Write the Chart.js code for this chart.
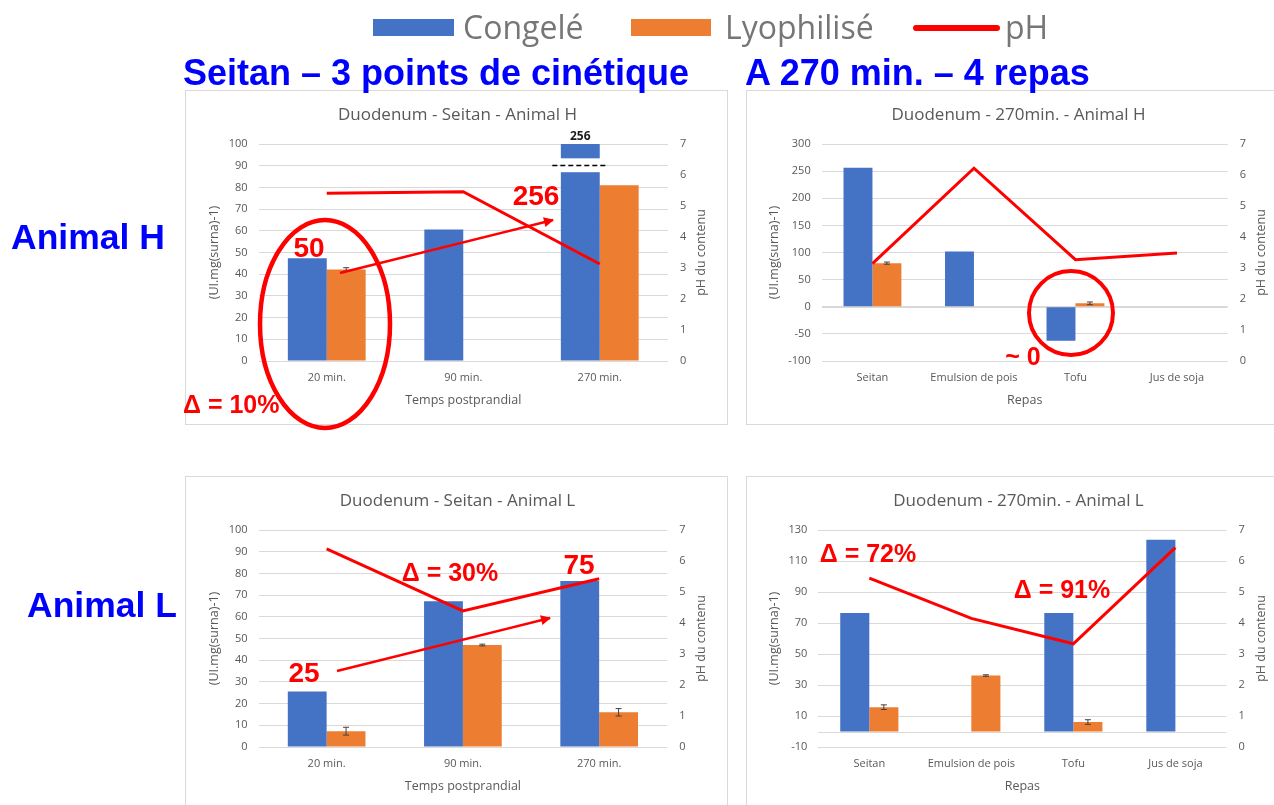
<!DOCTYPE html>
<html lang="fr">
<head>
<meta charset="utf-8">
<title>Duodenum – Congelé / Lyophilisé / pH</title>
<script src="https://cdn.jsdelivr.net/npm/chart.js@4.4.1/dist/chart.umd.min.js"></script>
<style>
  html, body { margin: 0; padding: 0; background: #fff; }
  body { position: relative; width: 1274px; height: 805px; overflow: hidden; }
  .cadre { position: absolute; width: 541px; height: 333px; border: 1px solid #d9d9d9; background: #fff; }
  .cadre canvas { display: block; }
  #calque { position: absolute; left: 0; top: 0; z-index: 2; pointer-events: none; }
  .titre { font: bold 36px "Liberation Sans", Arial, sans-serif; fill: #0000ff; }
  .animal { font: bold 35.5px "Liberation Sans", Arial, sans-serif; fill: #0000ff; }
  .legende { font: 32px "Open Sans", sans-serif; fill: #767676; }
  .annot { font-family: "Liberation Sans", Arial, sans-serif; font-weight: bold; fill: #ff0000; }
</style>
</head>
<body>
<div class="cadre" style="left:185px;top:90px"><canvas id="chartHSeitan" width="541" height="333"></canvas></div>
<div class="cadre" style="left:746px;top:90px"><canvas id="chartH270" width="541" height="333"></canvas></div>
<div class="cadre" style="left:185px;top:476px"><canvas id="chartLSeitan" width="541" height="333"></canvas></div>
<div class="cadre" style="left:746px;top:476px"><canvas id="chartL270" width="541" height="333"></canvas></div>

<svg id="calque" width="1274" height="805">
  <defs>
    <marker id="fleche" viewBox="0 0 10 10" refX="9" refY="5" markerWidth="4.5" markerHeight="4" orient="auto">
      <path d="M0,0 L10,5 L0,10 z" fill="#ff0000"/>
    </marker>
  </defs>

  <!-- légende commune -->
  <rect x="373" y="19" width="81" height="17" fill="#4472c4"/>
  <text class="legende" x="463" y="39">Congelé</text>
  <rect x="631" y="19" width="80" height="17" fill="#ed7d31"/>
  <text class="legende" x="725" y="39">Lyophilisé</text>
  <line x1="916" y1="28" x2="997" y2="28" stroke="#ff0000" stroke-width="6" stroke-linecap="round"/>
  <text class="legende" x="1005" y="39">pH</text>

  <!-- titres de colonnes et de lignes -->
  <text class="titre" x="183" y="85">Seitan – 3 points de cinétique</text>
  <text class="titre" x="745" y="85">A 270 min. – 4 repas</text>
  <text class="animal" x="11" y="249">Animal H</text>
  <text class="animal" x="27" y="617">Animal L</text>

  <!-- annotations Animal H -->
  <ellipse cx="325" cy="324" rx="65" ry="104" fill="none" stroke="#ff0000" stroke-width="4.5"/>
  <text class="annot" x="309" y="257" font-size="28" text-anchor="middle">50</text>
  <text class="annot" x="183" y="413" font-size="25">Δ = 10%</text>
  <line x1="340" y1="273" x2="553" y2="220" stroke="#ff0000" stroke-width="2.5" marker-end="url(#fleche)"/>
  <text class="annot" x="536" y="205" font-size="28" text-anchor="middle">256</text>
  <circle cx="1071" cy="313" r="42" fill="none" stroke="#ff0000" stroke-width="4"/>
  <text class="annot" x="1023" y="365" font-size="25" text-anchor="middle">~ 0</text>

  <!-- annotations Animal L -->
  <text class="annot" x="450" y="581" font-size="25" text-anchor="middle">Δ = 30%</text>
  <text class="annot" x="579" y="574" font-size="28" text-anchor="middle">75</text>
  <text class="annot" x="304" y="682" font-size="28" text-anchor="middle">25</text>
  <line x1="337" y1="671" x2="550" y2="618" stroke="#ff0000" stroke-width="2.5" marker-end="url(#fleche)"/>
  <text class="annot" x="868" y="562" font-size="25" text-anchor="middle">Δ = 72%</text>
  <text class="annot" x="1062" y="598" font-size="25" text-anchor="middle">Δ = 91%</text>
</svg>

<script>
// catégories
const tempsLabels = ["20 min.", "90 min.", "270 min."];
const repasLabels = ["Seitan", "Emulsion de pois", "Tofu", "Jus de soja"];

// Animal H - cinétique seitan
const hSeitanCongele = [47.3, 60.6, 256];
const hSeitanLyophilise = [42.2, null, 81.0];
const hSeitanLyoErreur = [0.8, null, null];
const hSeitanPH = [5.41, 5.46, 3.13];

// Animal H - 270 min, 4 repas
const h270Congele = [256, 102, -62.6, null];
const h270Lyophilise = [80.4, null, 6.3, null];
const h270LyoErreur = [2, null, 2.5, null];
const h270PH = [3.14, 6.22, 3.27, 3.48];

// Animal L - cinétique seitan
const lSeitanCongele = [25.6, 67.2, 76.5];
const lSeitanLyophilise = [7.3, 47.0, 16.0];
const lSeitanLyoErreur = [1.8, 0.4, 1.7];
const lSeitanPH = [6.39, 4.39, 5.43];

// Animal L - 270 min, 4 repas
const l270Congele = [76.4, null, 76.4, 123.7];
const l270Lyophilise = [15.7, 36.1, 6.1, null];
const l270LyoErreur = [1.5, 0.5, 1.5, null];
const l270PH = [5.45, 4.15, 3.33, 6.43];

// échelles des axes (activité à gauche, pH à droite)
const echelleSeitan = [0, 100, 10];
const echelle270H = [-100, 300, 50];
const echelle270L = [-10, 130, 20];
const echellePH = [0, 7, 1];

Chart.defaults.font.family = "'Open Sans', sans-serif";
Chart.defaults.color = "#595959";

// barres d'erreur sur les séries qui ont un tableau "erreurs"
const barresErreur = {
  id: "barresErreur",
  afterDatasetsDraw(chart) {
    const ctx = chart.ctx;
    chart.data.datasets.forEach((ds, i) => {
      if (!ds.erreurs) return;
      const meta = chart.getDatasetMeta(i);
      const y = chart.scales[meta.yAxisID];
      meta.data.forEach((el, j) => {
        const v = ds.data[j], e = ds.erreurs[j];
        if (v == null || e == null) return;
        const haut = y.getPixelForValue(v + e);
        const bas = y.getPixelForValue(v - e);
        ctx.save();
        ctx.strokeStyle = "#404040";
        ctx.lineWidth = 1;
        ctx.beginPath();
        ctx.moveTo(el.x, haut); ctx.lineTo(el.x, bas);
        ctx.moveTo(el.x - 3, haut); ctx.lineTo(el.x + 3, haut);
        ctx.moveTo(el.x - 3, bas); ctx.lineTo(el.x + 3, bas);
        ctx.stroke();
        ctx.restore();
      });
    });
  }
};

// axe horizontal à 0 quand 0 n'est pas une graduation
const ligneZero = {
  id: "ligneZero",
  beforeDatasetsDraw(chart) {
    const y = chart.scales.y;
    if (y.min >= 0) return;
    const py = Math.round(y.getPixelForValue(0)) + 0.5;
    const ctx = chart.ctx;
    ctx.save();
    ctx.strokeStyle = "#d9d9d9";
    ctx.lineWidth = 1;
    ctx.beginPath();
    ctx.moveTo(chart.chartArea.left, py);
    ctx.lineTo(chart.chartArea.right, py);
    ctx.stroke();
    ctx.restore();
  }
};

// titre de l'axe secondaire, lu de bas en haut comme l'axe principal
const titreDroit = {
  id: "titreDroit",
  afterDraw(chart, args, opts) {
    const ctx = chart.ctx;
    const a = chart.chartArea;
    ctx.save();
    ctx.translate(opts.x, (a.top + a.bottom) / 2);
    ctx.rotate(-Math.PI / 2);
    ctx.font = "12.5px 'Open Sans', sans-serif";
    ctx.fillStyle = "#595959";
    ctx.textAlign = "center";
    ctx.textBaseline = "middle";
    ctx.fillText(opts.texte, 0, 0);
    ctx.restore();
  }
};

// barre hors échelle : coupure blanche + tirets + valeur au-dessus
const coupure = {
  id: "coupure",
  afterDatasetsDraw(chart, args, opts) {
    if (opts.index == null) return;
    const meta = chart.getDatasetMeta(opts.datasetIndex);
    const el = meta.data[opts.index];
    const y = chart.scales.y;
    const ctx = chart.ctx;
    const yHaut = y.getPixelForValue(opts.haut);
    const yBas = y.getPixelForValue(opts.bas);
    const yTirets = Math.round(y.getPixelForValue(opts.tirets)) + 0.5;
    ctx.save();
    ctx.fillStyle = "#ffffff";
    ctx.fillRect(el.x - el.width / 2 - 1, yHaut, el.width + 2, yBas - yHaut);
    ctx.strokeStyle = "#000000";
    ctx.lineWidth = 1.5;
    ctx.setLineDash([5, 3]);
    ctx.beginPath();
    ctx.moveTo(el.x - 28, yTirets);
    ctx.lineTo(el.x + 27, yTirets);
    ctx.stroke();
    ctx.setLineDash([]);
    ctx.fillStyle = "#1a1a1a";
    ctx.font = "bold 12px 'Open Sans', sans-serif";
    ctx.textAlign = "center";
    ctx.textBaseline = "middle";
    const valeur = chart.data.datasets[opts.datasetIndex].data[opts.index];
    ctx.fillText(String(valeur), el.x, chart.chartArea.top - 7);
    ctx.restore();
  }
};

const creerGraphique = (id, p) => {
  const largeur = 541;
  const padG = 16, padD = 14;
  const plugins = [ligneZero, barresErreur, titreDroit];
  if (p.coupure) plugins.push(coupure);
  return new Chart(document.getElementById(id), {
    type: "bar",
    data: {
      labels: p.labels,
      datasets: [
        {
          type: "line",
          label: "pH",
          data: p.ph,
          yAxisID: "y1",
          borderColor: "#ff0000",
          borderWidth: 3,
          pointRadius: 0,
          tension: 0,
          order: 0,
        },
        {
          label: "Congelé",
          data: p.congele,
          backgroundColor: "#4472c4",
          yAxisID: "y",
          order: 1,
        },
        {
          label: "Lyophilisé",
          data: p.lyophilise,
          erreurs: p.erreurs,
          backgroundColor: "#ed7d31",
          yAxisID: "y",
          order: 1,
        },
      ],
    },
    options: {
      responsive: false,
      animation: false,
      categoryPercentage: 0.57,
      barPercentage: 1,
      layout: { padding: { left: padG, right: padD, top: 0, bottom: 12 } },
      plugins: {
        legend: { display: false },
        tooltip: { enabled: false },
        title: {
          display: true,
          text: p.titre,
          color: "#595959",
          font: { size: 17, weight: "normal" },
          padding: { top: 13.8, bottom: 18.8 },
        },
        titreDroit: { texte: "pH du contenu", x: p.titreDroitX },
        coupure: p.coupure || {},
      },
      scales: {
        x: {
          grid: { display: false, drawTicks: false },
          border: { display: false },
          ticks: { padding: 10, font: { size: 11 }, maxRotation: 0, autoSkip: false },
          title: {
            display: true,
            text: p.titreX,
            font: { size: 12.5 },
            padding: { top: 0, bottom: 4.5 },
          },
          afterFit: (s) => { s.height = 51; },
        },
        y: {
          position: "left",
          min: p.echelle[0],
          max: p.echelle[1],
          ticks: { stepSize: p.echelle[2], padding: 11, font: { size: 11 } },
          grid: { color: "#d9d9d9", drawTicks: false },
          border: { display: false },
          title: {
            display: true,
            text: "(UI.mg(surna)-1)",
            font: { size: 12.5 },
            padding: { top: p.titreGaucheX - padG - 7.5, bottom: 0 },
          },
          afterFit: (s) => { s.width = p.gauche - padG; },
        },
        y1: {
          position: "right",
          min: echellePH[0],
          max: echellePH[1],
          ticks: { stepSize: echellePH[2], padding: 12, font: { size: 11 } },
          grid: { display: false, drawTicks: false },
          border: { display: false },
          afterFit: (s) => { s.width = largeur - padD - p.droite; },
        },
      },
    },
    plugins: plugins,
  });
};

creerGraphique("chartHSeitan", {
  labels: tempsLabels,
  congele: hSeitanCongele,
  lyophilise: hSeitanLyophilise,
  erreurs: hSeitanLyoErreur,
  ph: hSeitanPH,
  echelle: echelleSeitan,
  titre: "Duodenum - Seitan - Animal H",
  titreX: "Temps postprandial",
  gauche: 72.5, droite: 482, titreGaucheX: 28.4, titreDroitX: 515.7,
  coupure: { datasetIndex: 1, index: 2, bas: 87, haut: 93.4, tirets: 90.3 },
});

creerGraphique("chartH270", {
  labels: repasLabels,
  congele: h270Congele,
  lyophilise: h270Lyophilise,
  erreurs: h270LyoErreur,
  ph: h270PH,
  echelle: echelle270H,
  titre: "Duodenum - 270min. - Animal H",
  titreX: "Repas",
  gauche: 74.7, droite: 480.7, titreGaucheX: 27, titreDroitX: 514,
});

creerGraphique("chartLSeitan", {
  labels: tempsLabels,
  congele: lSeitanCongele,
  lyophilise: lSeitanLyophilise,
  erreurs: lSeitanLyoErreur,
  ph: lSeitanPH,
  echelle: echelleSeitan,
  titre: "Duodenum - Seitan - Animal L",
  titreX: "Temps postprandial",
  gauche: 72.5, droite: 481.3, titreGaucheX: 28.4, titreDroitX: 515.7,
});

creerGraphique("chartL270", {
  labels: repasLabels,
  congele: l270Congele,
  lyophilise: l270Lyophilise,
  erreurs: l270LyoErreur,
  ph: l270PH,
  echelle: echelle270L,
  titre: "Duodenum - 270min. - Animal L",
  titreX: "Repas",
  gauche: 71.3, droite: 479.4, titreGaucheX: 27, titreDroitX: 514,
});
</script>
</body>
</html>
